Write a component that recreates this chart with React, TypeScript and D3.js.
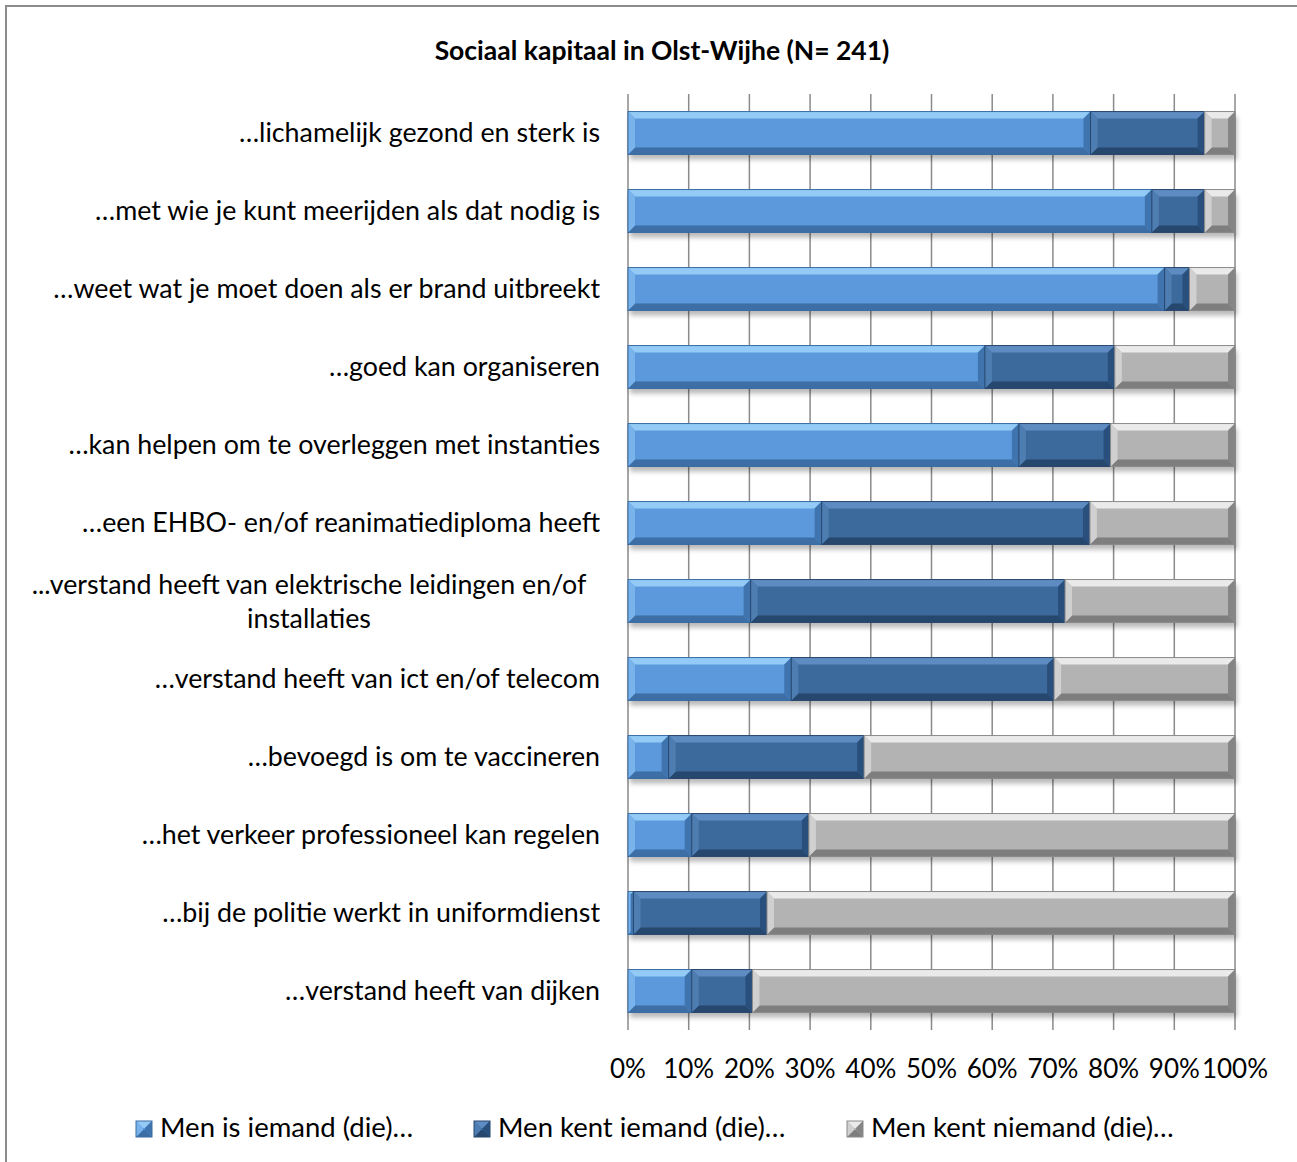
import React from "react";
import * as d3 from "d3";

const title = "Sociaal kapitaal in Olst-Wijhe (N= 241)";
const categories = [
  "…lichamelijk gezond en sterk is",
  "…met wie je kunt meerijden als dat nodig is",
  "…weet wat je moet doen als er brand uitbreekt",
  "…goed kan organiseren",
  "…kan helpen om te overleggen met instanties",
  "…een EHBO- en/of reanimatiediploma heeft",
  "...verstand heeft van elektrische leidingen en/of installaties",
  "…verstand heeft van ict en/of telecom",
  "…bevoegd is om te vaccineren",
  "…het verkeer professioneel kan regelen",
  "…bij de politie werkt in uniformdienst",
  "…verstand heeft van dijken",
];
const categoryLines: string[][] = [
  ["…lichamelijk gezond en sterk is"],
  ["…met wie je kunt meerijden als dat nodig is"],
  ["…weet wat je moet doen als er brand uitbreekt"],
  ["…goed kan organiseren"],
  ["…kan helpen om te overleggen met instanties"],
  ["…een EHBO- en/of reanimatiediploma heeft"],
  ["...verstand heeft van elektrische leidingen en/of", "installaties"],
  ["…verstand heeft van ict en/of telecom"],
  ["…bevoegd is om te vaccineren"],
  ["…het verkeer professioneel kan regelen"],
  ["…bij de politie werkt in uniformdienst"],
  ["…verstand heeft van dijken"],
];
const seriesNames = ["Men is iemand (die)…", "Men kent iemand (die)…", "Men kent niemand (die)…"];
const menIs = [76.2, 86.3, 88.4, 58.8, 64.4, 31.9, 20.2, 26.9, 6.7, 10.5, 0.9, 10.5];
const menKent = [18.8, 8.7, 4.1, 21.4, 15.1, 44.2, 51.8, 43.3, 32.2, 19.3, 22.0, 10.0];
const menKentNiet = [5.0, 5.0, 7.5, 19.8, 20.5, 23.9, 28.0, 29.8, 61.1, 70.2, 77.1, 79.5];
const ticks = [0, 10, 20, 30, 40, 50, 60, 70, 80, 90, 100];

const palettes = [
  { main: "#5B98DC", top: "#93CBF6", bottom: "#3D6FA6", left: "#79B3EC", right: "#3F74AE", stroke: "#3A6DA5" },
  { main: "#3D6A9C", top: "#5E8CC2", bottom: "#26476E", left: "#4E7DB2", right: "#29507C", stroke: "#28486F" },
  { main: "#B3B3B3", top: "#EAEAEA", bottom: "#7E7E7E", left: "#D0D0D0", right: "#858585", stroke: "#8A8A8A" },
];

const FONT = "Lato, 'Open Sans', sans-serif";

function Bevel({ x0, x1, y0, y1, p }: { x0: number; x1: number; y0: number; y1: number; p: any }) {
  const w = x1 - x0;
  const h = y1 - y0;
  if (w <= 0) return null;
  const b = Math.min(7, w / 2, h / 2);
  const pts = (a: number[][]) => a.map((q) => q.join(",")).join(" ");
  return (
    <g>
      <rect x={x0} y={y0} width={w} height={h} fill={p.main} />
      <polygon points={pts([[x0, y0], [x1, y0], [x1 - b, y0 + b], [x0 + b, y0 + b]])} fill={p.top} />
      <polygon points={pts([[x0, y1], [x1, y1], [x1 - b, y1 - b], [x0 + b, y1 - b]])} fill={p.bottom} />
      <polygon points={pts([[x0, y0], [x0 + b, y0 + b], [x0 + b, y1 - b], [x0, y1]])} fill={p.left} />
      <polygon points={pts([[x1, y0], [x1 - b, y0 + b], [x1 - b, y1 - b], [x1, y1]])} fill={p.right} />
      <rect x={x0} y={y0} width={w} height={h} fill="none" stroke={p.stroke} strokeWidth={1} />
    </g>
  );
}

export default function App() {
  const W = 1297, H = 1162;
  const left = 628, right = 1235, top = 94, bottom = 1030;
  const x = d3.scaleLinear().domain([0, 100]).range([left, right]);
  const y = d3.scaleBand().domain(categories).range([top, bottom]).paddingInner(0.45).paddingOuter(0.225);
  const stacked = d3.stack<number>().keys(["0", "1", "2"]).value((i, k) => [menIs, menKent, menKentNiet][+k][i])(
    d3.range(categories.length)
  );
  const bw = y.bandwidth();
  const legendX = [136, 474, 847];

  return (
    <svg width={W} height={H} style={{ position: "absolute", left: 0, top: 0, background: "#fff" }}>
      <defs>
        <filter id="sh" x="-5%" y="-20%" width="110%" height="160%">
          <feGaussianBlur stdDeviation="2.5" />
        </filter>
      </defs>
      <rect x={0} y={0} width={W} height={H} fill="#fff" />
      <rect x={6} y={6} width={W + 10} height={H + 10} fill="none" stroke="#8c8c8c" strokeWidth={2} />
      <text x={662} y={60} textAnchor="middle" fontFamily={FONT} fontWeight="bold" fontSize={26.5} fill="#000">
        {title}
      </text>
      {ticks.map((t) => (
        <line key={t} x1={x(t)} x2={x(t)} y1={top} y2={bottom} stroke="#8a8a8a" strokeWidth={1.5} />
      ))}
      {categories.map((c, i) => {
        const yy = y(c)!;
        return (
          <rect key={"s" + i} x={x(0) + 2} y={yy + 5} width={x(100) - x(0)} height={bw} fill="#000" opacity={0.28} filter="url(#sh)" />
        );
      })}
      {stacked.map((s, si) =>
        s.map((d, i) => {
          const yy = y(categories[i])!;
          return <Bevel key={si + "-" + i} x0={x(d[0])} x1={x(d[1])} y0={yy} y1={yy + bw} p={palettes[si]} />;
        })
      )}
      {categories.map((c, i) => {
        const lines = categoryLines[i];
        const cy = y(c)! + bw / 2;
        if (lines.length === 1) {
          return (
            <text key={"l" + i} x={600} y={cy + 9} textAnchor="end" fontFamily={FONT} fontSize={26.8} fill="#000">
              {lines[0]}
            </text>
          );
        }
        return (
          <g key={"l" + i}>
            {lines.map((ln, k) => (
              <text key={k} x={309} y={cy - 7 + k * 34} textAnchor="middle" fontFamily={FONT} fontSize={26.8} fill="#000">
                {ln}
              </text>
            ))}
          </g>
        );
      })}
      {ticks.map((t) => (
        <text key={"t" + t} x={x(t)} y={1078} textAnchor="middle" fontFamily={FONT} fontSize={26} fill="#000">
          {t + "%"}
        </text>
      ))}
      {seriesNames.map((n, i) => (
        <g key={"lg" + i}>
          <Bevel x0={legendX[i]} x1={legendX[i] + 16} y0={1121} y1={1137} p={palettes[i]} />
          <text x={legendX[i] + 24} y={1137} fontFamily={FONT} fontSize={27.5} fill="#000">
            {n}
          </text>
        </g>
      ))}
    </svg>
  );
}
